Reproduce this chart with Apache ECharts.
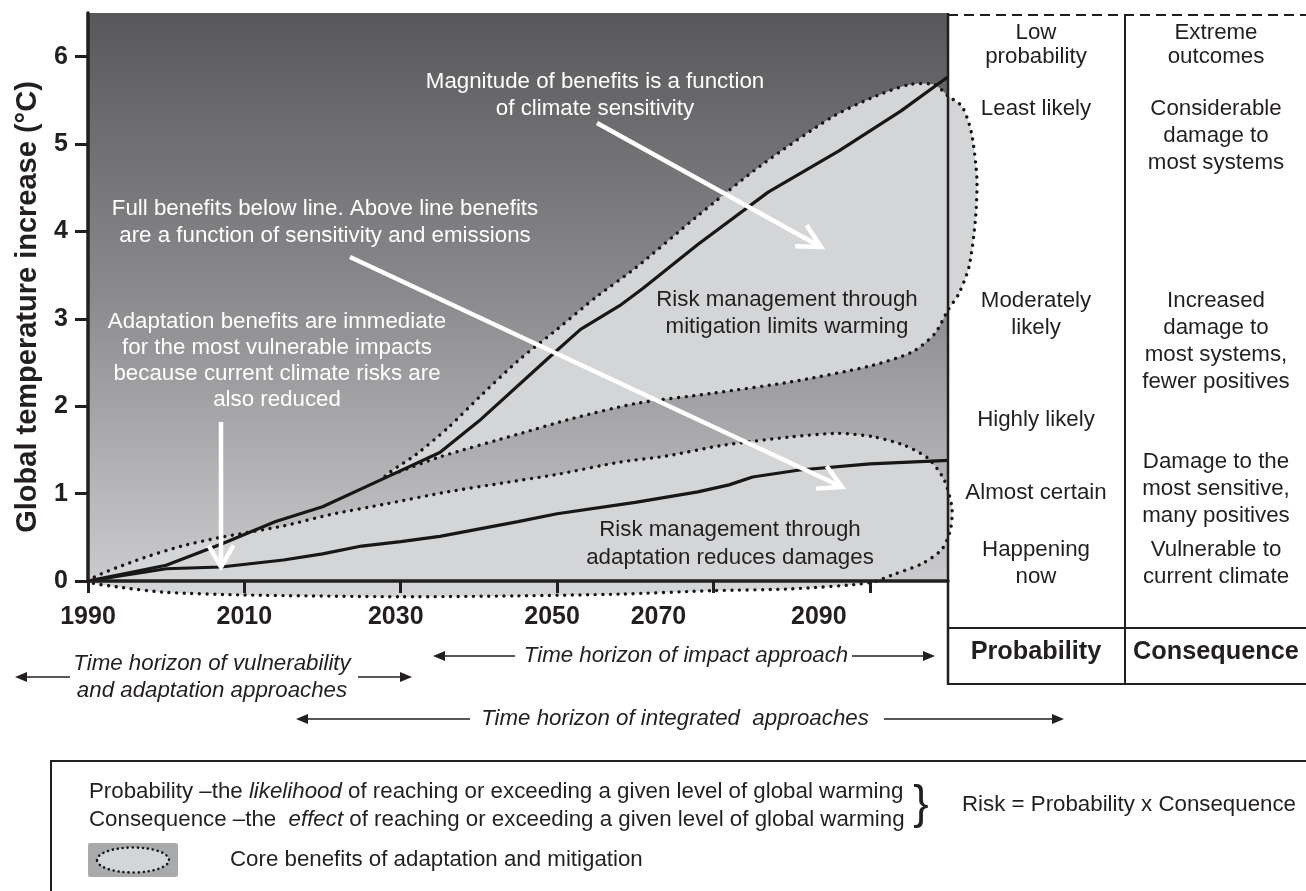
<!DOCTYPE html>
<html>
<head>
<meta charset="utf-8">
<script src="https://cdn.jsdelivr.net/npm/echarts@6/dist/echarts.min.js"></script>
<style>
  html, body { margin: 0; padding: 0; background: #fff; }
  #main { width: 1306px; height: 891px; }
</style>
</head>
<body>
<div id="main"></div>
<script>
  // axis ticks
  var yearTicks = [1990, 2010, 2030, 2050, 2070, 2090];
  var tempTicks = [0, 1, 2, 3, 4, 5, 6];

  // upper solid line
  var highYears = [1990, 2000, 2007, 2014, 2020, 2028, 2035, 2040, 2049, 2053, 2058, 2061, 2068, 2077, 2086, 2094, 2100];
  var highTemps = [0, 0.18, 0.42, 0.68, 0.85, 1.18, 1.47, 1.83, 2.56, 2.88, 3.15, 3.35, 3.85, 4.45, 4.92, 5.38, 5.77];

  // lower solid line
  var lowYears = [1990, 2000, 2007, 2015, 2020, 2025, 2030, 2035, 2045, 2050, 2060, 2068, 2072, 2075, 2081, 2090, 2100];
  var lowTemps = [0, 0.14, 0.16, 0.24, 0.31, 0.40, 0.45, 0.51, 0.68, 0.77, 0.90, 1.02, 1.10, 1.19, 1.27, 1.34, 1.38];

  // dotted outline: mitigation benefits
  var mitYears = [2028, 2032, 2036, 2040, 2045, 2050, 2055, 2060, 2068, 2076, 2085, 2090, 2095, 2098.3, 2100, 2101.8, 2103, 2103.7, 2103.5, 2102.7, 2101.4, 2100, 2098.3, 2095.4, 2090, 2080, 2070, 2060, 2052, 2045, 2035];
  var mitTemps = [1.2, 1.45, 1.75, 2.1, 2.52, 2.88, 3.25, 3.58, 4.18, 4.75, 5.3, 5.52, 5.68, 5.68, 5.55, 5.43, 5.13, 4.6, 4.13, 3.6, 3.29, 3.1, 2.83, 2.62, 2.46, 2.28, 2.15, 2.03, 1.86, 1.68, 1.42];

  // dotted outline: adaptation benefits
  var adaYears = [1990, 1996, 2002, 2007, 2015, 2021, 2028, 2036, 2043, 2050, 2058, 2064, 2071, 2080, 2086, 2090.5, 2094.5, 2097.5, 2099.5, 2100.5, 2100.3, 2099.2, 2096.7, 2093.2, 2090, 2080, 2070, 2058, 2045, 2030, 2010, 2000, 1994];
  var adaTemps = [0, 0.23, 0.40, 0.50, 0.63, 0.76, 0.88, 1.02, 1.12, 1.22, 1.36, 1.43, 1.55, 1.65, 1.69, 1.65, 1.55, 1.40, 1.16, 0.84, 0.58, 0.36, 0.20, 0.08, -0.02, -0.09, -0.11, -0.15, -0.17, -0.18, -0.16, -0.13, -0.07];

  var FONT = '"Liberation Sans", Arial, Helvetica, sans-serif';
  var INK = '#231f20';
  var LIGHT = '#d4d5d7';
  var FS = 22.3;

  // the printed year labels sit a little left of their ticks
  var labelShift = { 1990: 0, 2010: 0, 2030: 10, 2050: 10, 2070: 110, 2090: 102 };

  function pairs(xs, ys) {
    return xs.map(function (x, i) { return [x, ys[i]]; });
  }

  function blobSeries(xs, ys) {
    var pts = pairs(xs, ys);
    return {
      type: 'custom',
      coordinateSystem: 'cartesian2d',
      clip: false,
      silent: true,
      z: 2,
      data: [pts[0]],
      renderItem: function (params, api) {
        return {
          type: 'polygon',
          shape: { points: pts.map(function (p) { return api.coord(p); }), smooth: 0.25 },
          style: { fill: LIGHT, stroke: '#161616', lineWidth: 3.4, lineDash: [0.01, 7.6], lineCap: 'round' }
        };
      }
    };
  }

  function txt(s, x, y, size, opts) {
    opts = opts || {};
    return {
      type: 'text', z: 60, silent: true,
      style: {
        text: s, x: x, y: y,
        textAlign: opts.align || 'center', textVerticalAlign: 'middle',
        fontFamily: FONT, fontSize: size,
        fontWeight: opts.weight || 'normal', fontStyle: opts.style || 'normal',
        lineHeight: opts.lh || size * 1.25,
        fill: opts.color || INK,
        rich: opts.rich
      }
    };
  }

  function whiteArrow(x1, y1, x2, y2, len, spread) {
    var a = Math.atan2(y2 - y1, x2 - x1);
    var p1 = [x2 - len * Math.cos(a - spread), y2 - len * Math.sin(a - spread)];
    var p2 = [x2 - len * Math.cos(a + spread), y2 - len * Math.sin(a + spread)];
    return [
      { type: 'line', z: 50, silent: true, shape: { x1: x1, y1: y1, x2: x2, y2: y2 }, style: { stroke: '#fff', lineWidth: 4.5 } },
      { type: 'polyline', z: 50, silent: true, shape: { points: [p1, [x2, y2], p2] }, style: { stroke: '#fff', lineWidth: 4.5, fill: null } }
    ];
  }

  function blackArrow(x1, x2, y) {
    var d = x2 > x1 ? 1 : -1;
    return [
      { type: 'line', z: 50, silent: true, shape: { x1: x1, y1: y, x2: x2 - d * 8, y2: y }, style: { stroke: INK, lineWidth: 1.6 } },
      { type: 'polygon', z: 50, silent: true, shape: { points: [[x2, y], [x2 - d * 12, y - 5], [x2 - d * 12, y + 5]] }, style: { fill: INK } }
    ];
  }

  function hline(x1, x2, y, w, dash) {
    return { type: 'line', z: 55, silent: true, shape: { x1: x1, y1: y, x2: x2, y2: y }, style: { stroke: INK, lineWidth: w, lineDash: dash || null } };
  }
  function vline(x, y1, y2, w) {
    return { type: 'line', z: 55, silent: true, shape: { x1: x, y1: y1, x2: x, y2: y2 }, style: { stroke: INK, lineWidth: w } };
  }

  var PX = 1036, CX = 1216, HS = 25.3;
  var italic = { i: { fontStyle: 'italic', fontFamily: FONT, fontSize: FS, fill: INK } };
  var graphics = [
    // y axis title
    {
      type: 'text', z: 60, silent: true, x: 28, y: 307, rotation: Math.PI / 2,
      style: { text: 'Global temperature increase (°C)', x: 0, y: 0, textAlign: 'center', textVerticalAlign: 'middle',
        fontFamily: FONT, fontSize: 29, fontWeight: 'bold', fill: INK }
    },
    // notes inside the plot
    txt('Magnitude of benefits is a function\nof climate sensitivity', 595, 95, FS, { color: '#fff', lh: 27 }),
    txt('Full benefits below line. Above line benefits\nare a function of sensitivity and emissions', 325, 222, FS, { color: '#fff', lh: 27 }),
    txt('Adaptation benefits are immediate\nfor the most vulnerable impacts\nbecause current climate risks are\nalso reduced', 277, 361, FS, { color: '#fff', lh: 26 }),
    txt('Risk management through\nmitigation limits warming', 787, 313, FS, { lh: 27 }),
    txt('Risk management through\nadaptation reduces damages', 730, 544, FS, { lh: 28 }),

    // table on the right
    hline(948, 1306, 15, 2, [10, 6]),
    vline(948, 13, 685, 2.5),
    vline(1125, 15, 685, 2),
    hline(948, 1306, 628, 2),
    hline(948, 1306, 684, 2),
    txt('Low', PX, 33, FS), txt('probability', PX, 57, FS),
    txt('Least likely', PX, 109, FS),
    txt('Moderately', PX, 301, FS), txt('likely', PX, 328, FS),
    txt('Highly likely', PX, 420, FS),
    txt('Almost certain', PX, 493, FS),
    txt('Happening', PX, 550, FS), txt('now', PX, 577, FS),
    txt('Probability', PX, 652, HS, { weight: 'bold' }),
    txt('Extreme', CX, 33, FS), txt('outcomes', CX, 57, FS),
    txt('Considerable', CX, 109, FS), txt('damage to', CX, 136, FS), txt('most systems', CX, 163, FS),
    txt('Increased', CX, 301, FS), txt('damage to', CX, 328, FS), txt('most systems,', CX, 355, FS), txt('fewer positives', CX, 382, FS),
    txt('Damage to the', CX, 462, FS), txt('most sensitive,', CX, 489, FS), txt('many positives', CX, 516, FS),
    txt('Vulnerable to', CX, 550, FS), txt('current climate', CX, 577, FS),
    txt('Consequence', CX, 652, HS, { weight: 'bold' }),

    // time horizons
    txt('Time horizon of vulnerability\nand adaptation approaches', 212, 677, FS, { style: 'italic', lh: 27 }),
    txt('Time horizon of impact approach', 686, 656, FS, { style: 'italic' }),
    txt('Time horizon of integrated  approaches', 675, 719, FS, { style: 'italic' }),

    // key box
    { type: 'polyline', z: 55, silent: true, shape: { points: [[51, 900], [51, 761], [1310, 761]] }, style: { stroke: INK, lineWidth: 2, fill: null } },
    txt('Probability –the {i|likelihood} of reaching or exceeding a given level of global warming', 89, 792, FS,
      { align: 'left', rich: italic }),
    txt('Consequence –the  {i|effect} of reaching or exceeding a given level of global warming', 89, 820, FS,
      { align: 'left', rich: italic }),
    txt('}', 921, 805, 46),
    txt('Risk = Probability x Consequence', 962, 805, FS, { align: 'left' }),
    { type: 'rect', z: 55, silent: true, shape: { x: 88, y: 843, width: 90, height: 34, r: 2 }, style: { fill: '#a9aaac' } },
    { type: 'ellipse', z: 56, silent: true, shape: { cx: 133, cy: 860, rx: 36, ry: 12.5 },
      style: { fill: LIGHT, stroke: '#161616', lineWidth: 2.6, lineDash: [0.01, 5], lineCap: 'round' } },
    txt('Core benefits of adaptation and mitigation', 230, 860, FS, { align: 'left' })
  ];

  graphics = graphics
    .concat(whiteArrow(597, 123, 821, 247, 26, 0.48))
    .concat(whiteArrow(350, 257, 842, 487, 26, 0.5))
    .concat(whiteArrow(221, 422, 221, 567, 25, 0.52))
    .concat(blackArrow(70, 15, 677))
    .concat(blackArrow(358, 412, 677))
    .concat(blackArrow(515, 433, 656))
    .concat(blackArrow(852, 935, 656))
    .concat(blackArrow(470, 296, 719))
    .concat(blackArrow(884, 1064, 719));

  var chart = echarts.init(document.getElementById('main'));
  chart.setOption({
    animation: false,
    backgroundColor: '#fff',
    grid: {
      left: 88, right: 358, top: 13, bottom: 310,
      show: true, borderWidth: 0,
      backgroundColor: new echarts.graphic.LinearGradient(0, 0, 0, 1, [
        { offset: 0, color: '#58585a' },
        { offset: 0.5, color: '#8b8b8e' },
        { offset: 1, color: '#cbcbcd' }
      ])
    },
    xAxis: {
      type: 'value', min: 1990, max: 2100, z: 10,
      splitLine: { show: false },
      axisLine: { lineStyle: { color: INK, width: 3.5 } },
      axisTick: { customValues: yearTicks, length: 12, lineStyle: { color: INK, width: 3 } },
      axisLabel: {
        customValues: yearTicks, margin: 24,
        formatter: function (v) { return '{s' + v + '|' + v + '}'; },
        rich: (function () {
          var r = {};
          yearTicks.forEach(function (y) {
            r['s' + y] = { fontFamily: FONT, fontSize: 25, fontWeight: 'bold', color: INK, padding: [0, labelShift[y], 0, 0] };
          });
          return r;
        })()
      }
    },
    yAxis: {
      type: 'value', min: 0, max: 6.5, z: 10,
      splitLine: { show: false },
      axisLine: { show: true, lineStyle: { color: INK, width: 3.5 } },
      axisTick: { show: true, customValues: tempTicks, length: 13, lineStyle: { color: INK, width: 3 } },
      axisLabel: { customValues: tempTicks, margin: 20, fontFamily: FONT, fontSize: 25, fontWeight: 'bold', color: INK }
    },
    series: [
      blobSeries(mitYears, mitTemps),
      blobSeries(adaYears, adaTemps),
      {
        type: 'line', z: 4, silent: true, symbol: 'none',
        lineStyle: { color: '#171717', width: 3.2 },
        data: pairs(highYears, highTemps)
      },
      {
        type: 'line', z: 4, silent: true, symbol: 'none',
        lineStyle: { color: '#171717', width: 3.2 },
        data: pairs(lowYears, lowTemps)
      }
    ],
    graphic: graphics
  });
</script>
</body>
</html>
